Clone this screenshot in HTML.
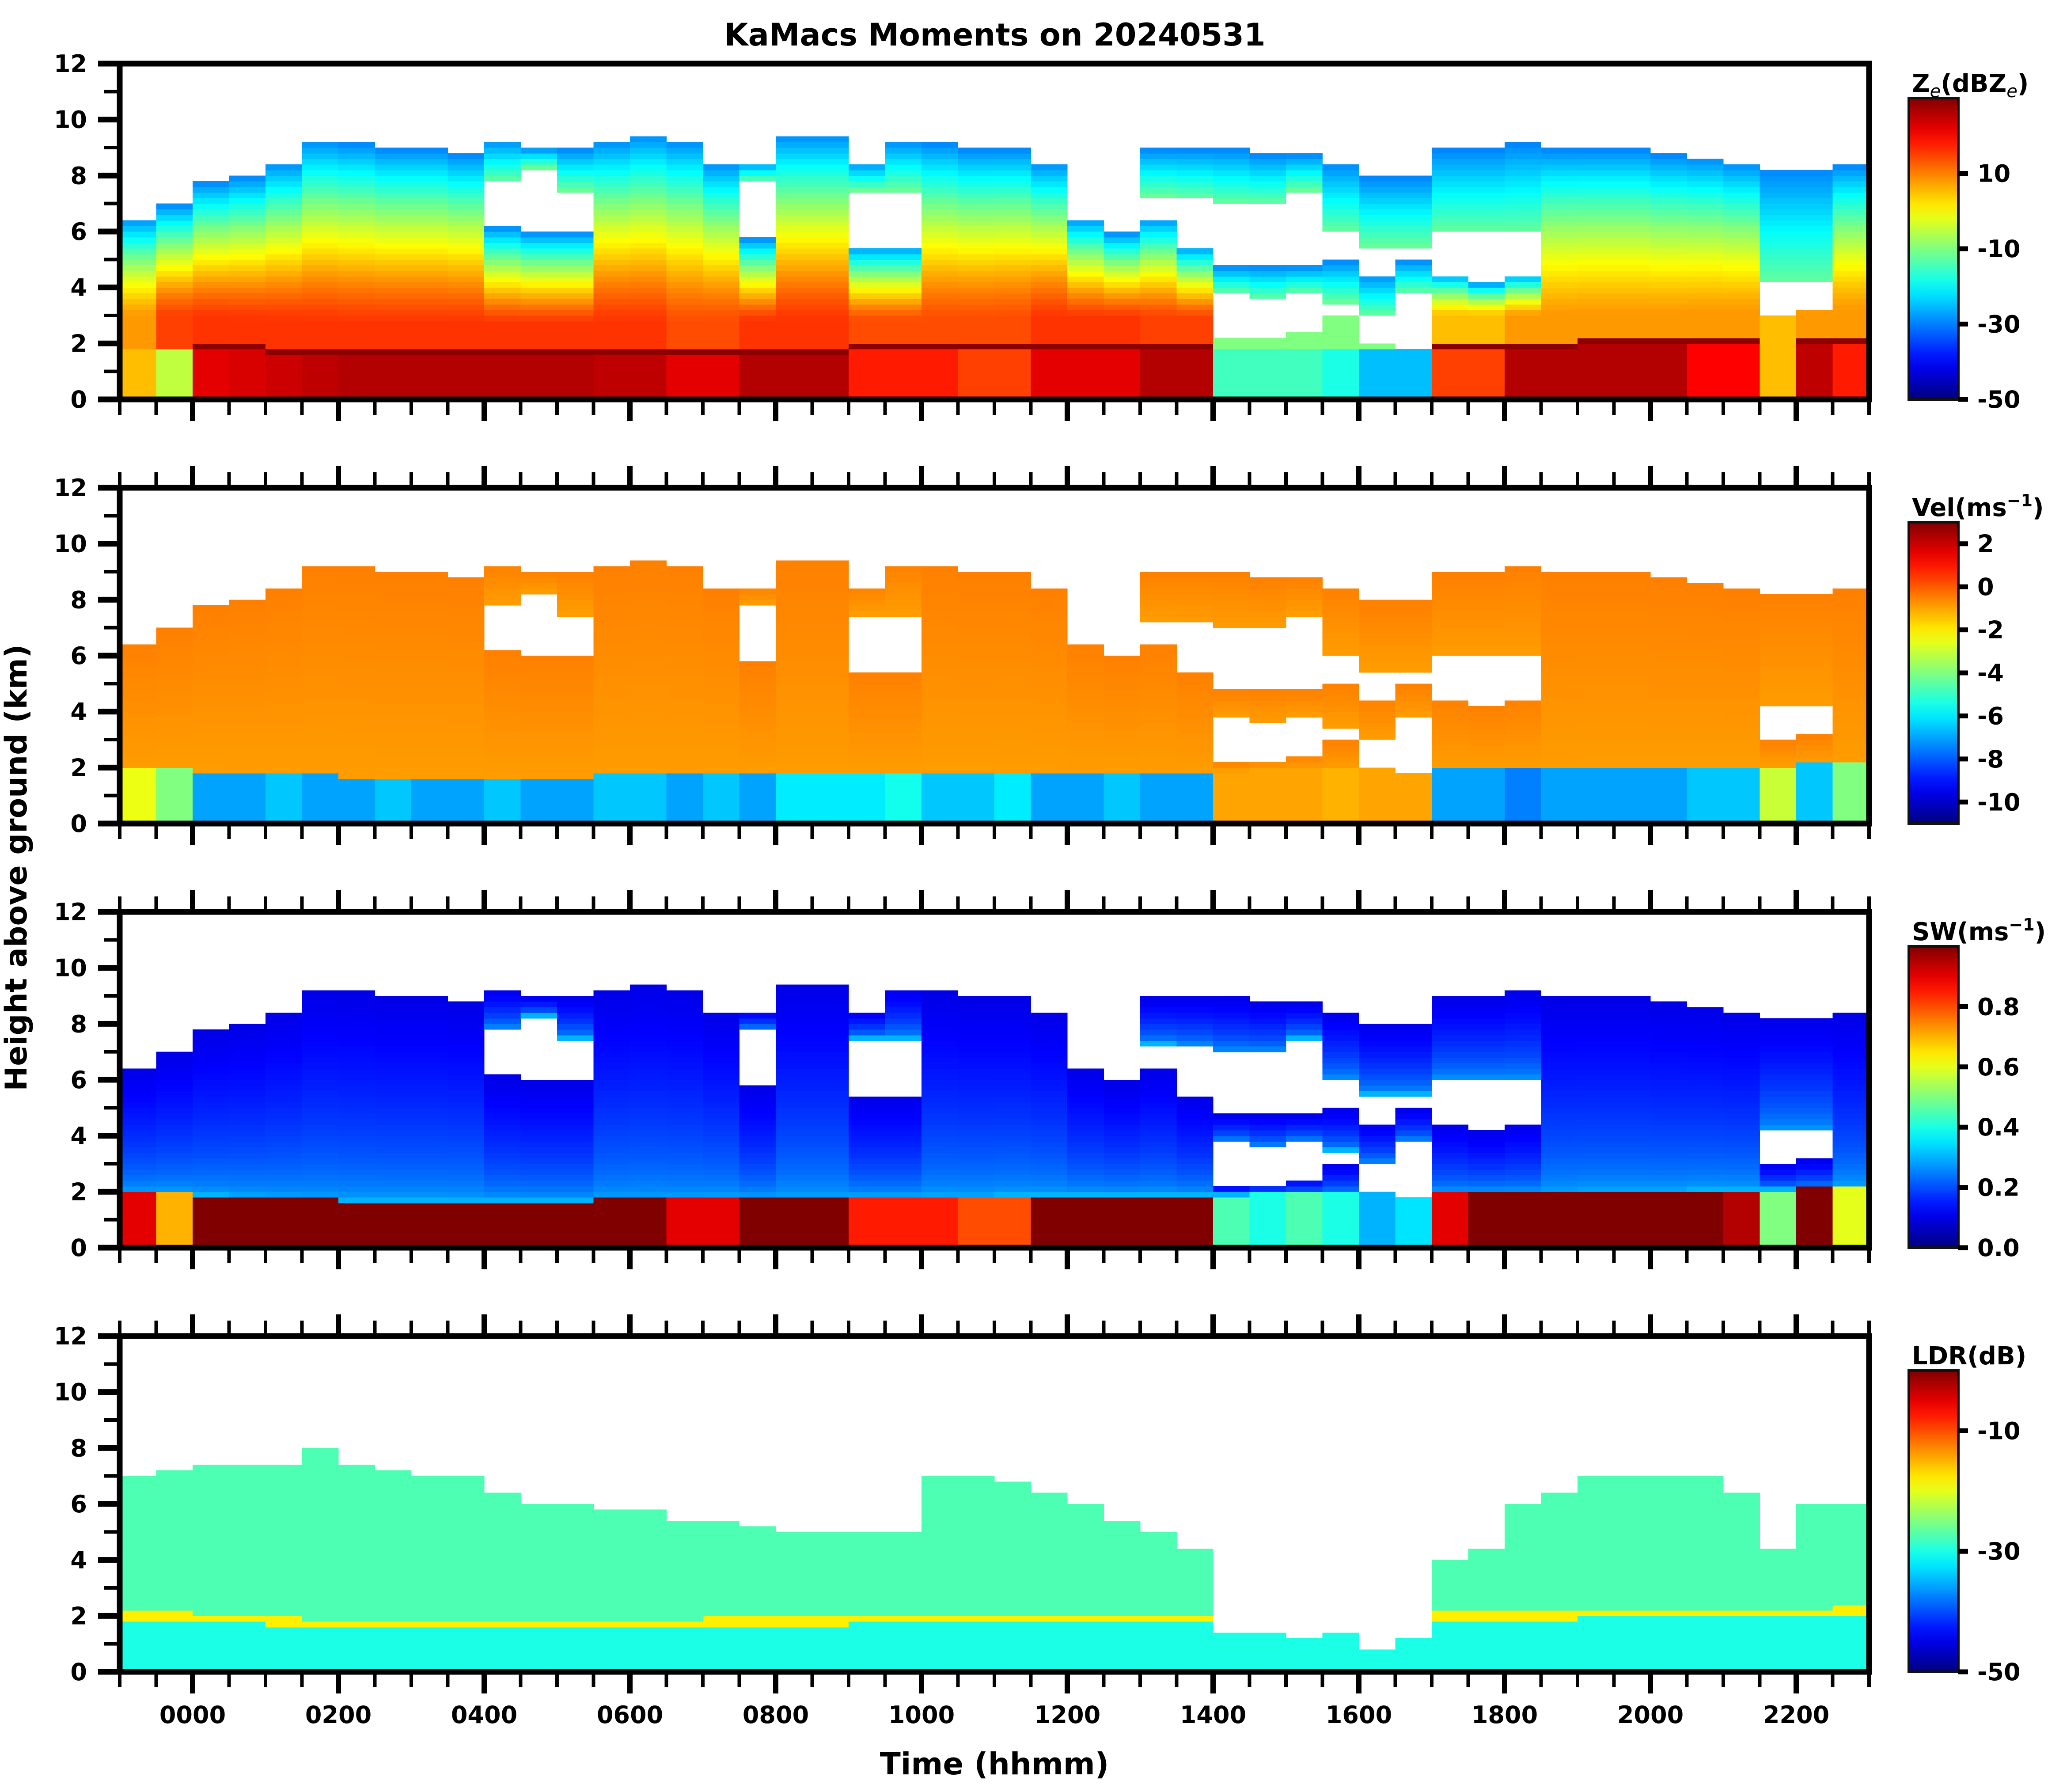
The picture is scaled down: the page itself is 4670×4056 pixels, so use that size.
<!DOCTYPE html>
<html><head><meta charset="utf-8"><title>KaMacs Moments on 20240531</title>
<style>html,body{margin:0;padding:0;background:#fff}svg{display:block}text{font-family:"DejaVu Sans","Liberation Sans",sans-serif;font-weight:bold;fill:#000}</style>
</head><body>
<svg id="fig" xmlns="http://www.w3.org/2000/svg" width="4670" height="4056" viewBox="0 0 4670 4056">
<rect x="0" y="0" width="4670" height="4056" fill="#fff"/>
<text x="2252" y="103" font-size="70" text-anchor="middle">KaMacs Moments on 20240531</text>
<text x="0" y="0" font-size="68" text-anchor="middle" transform="translate(60,1964) rotate(-90)">Height above ground (km)</text>
<text x="2251" y="4016" font-size="69" text-anchor="middle">Time (hhmm)</text>
<g id="panels"></g>
</svg>
<script>
// ---- data (half-hour columns starting at -1 h) ----
const colTimes = [-1,-0.5,0,0.5,1,1.5,2,2.5,3,3.5,4,4.5,5,5.5,6,6.5,7,7.5,8,8.5,9,9.5,10,10.5,11,11.5,12,12.5,13,13.5,14,14.5,15,15.5,16,16.5,17,17.5,18,18.5,19,19.5,20,20.5,21,21.5,22,22.5];
const lowTop = [6.5,7,7.8,8,8.5,9.3,9.2,9,9,8.8,6.2,6,6,9.3,9.5,9.3,8.5,5.8,9.5,9.5,5.5,5.5,9.2,9,9,8.5,6.5,6,6.5,5.5,2.2,2.3,2.5,3,2,1.8,4.5,4.2,4.5,9,9,9,8.8,8.7,8.5,3,3.2,8.4];
const midLo  = [0,0,0,0,0,0,0,0,0,0,7.8,8.3,7.5,0,0,0,0,7.8,0,0,7.5,7.5,0,0,0,0,0,0,7.3,7.2,3.8,3.6,3.8,3.5,3,3.8,0,0,0,0,0,0,0,0,0,4.2,4.2,0];
const midHi  = [0,0,0,0,0,0,0,0,0,0,9.3,9,9,0,0,0,0,8.5,0,0,8.5,9.3,0,0,0,0,0,0,9,9,4.8,4.8,4.8,5,4.5,5,0,0,0,0,0,0,0,0,0,8.3,8.3,0];
const upLo   = [0,0,0,0,0,0,0,0,0,0,0,0,0,0,0,0,0,0,0,0,0,0,0,0,0,0,0,0,0,0,7,7,7.5,6,5.5,5.5,6,6,6,0,0,0,0,0,0,0,0,0];
const upHi   = [0,0,0,0,0,0,0,0,0,0,0,0,0,0,0,0,0,0,0,0,0,0,0,0,0,0,0,0,0,0,9,8.8,8.8,8.5,8,8,9,9,9.2,0,0,0,0,0,0,0,0,0];
const meltH  = [2,2,1.9,1.85,1.8,1.75,1.7,1.7,1.7,1.7,1.7,1.7,1.7,1.75,1.75,1.75,1.8,1.8,1.8,1.8,1.85,1.85,1.85,1.85,1.9,1.9,1.9,1.9,1.9,1.9,1.9,1.95,1.95,1.95,2,2,2,2,2,2,2.05,2.05,2.05,2.1,2.1,2.1,2.15,2.2];
const zeRain  = [5,-5,22,23,24,25,26,26,26,26,26,26,26,25,25,22,22,26,26,26,18,18,18,15,15,22,22,22,26,26,-15,-15,-15,-18,-25,-25,15,15,26,26,26,26,26,20,20,5,25,18];
const zeAloft = [8,15,16,16,16,16,16,16,16,16,16,16,16,16,16,14,14,16,16,16,14,14,14,14,14,16,16,16,15,15,-10,-10,-10,-10,-10,-10,5,5,8,8,8,8,8,8,8,5,8,8];
const velRain = [-2.5,-4,-7,-7,-6.5,-7,-7,-6.5,-7,-7,-6.5,-7,-7,-6.5,-6.5,-7,-6.5,-7,-6,-6,-6,-5.5,-6.5,-6.5,-6,-7,-7,-6.5,-7,-7,-1,-1,-1,-1.2,-1,-1,-7,-7,-7.5,-7,-7,-7,-7,-6.5,-6.5,-3,-6.5,-4];
const swRain  = [0.9,0.7,1,1,1,1,1,1,1,1,1,1,1,1,1,0.9,0.9,1,1,1,0.85,0.85,0.85,0.8,0.8,1,1,1,1,1,0.45,0.4,0.45,0.4,0.3,0.35,0.9,1,1,1,1,1,1,1,0.95,0.5,1,0.6];
const ldrTop  = [7,7.2,7.5,7.5,7.5,8,7.5,7.2,7,7,6.5,6,6,5.8,5.8,5.5,5.5,5.3,5,5,5,5,7,7,6.8,6.5,6,5.5,5,4.5,1.5,1.5,1.2,1.5,0.8,1.2,4,4.5,6,6.5,7,7,7,7,6.5,4.5,6,6];
// colorbar ranges & ticks
const cbNames  = ['Ze','Vel','SW','LDR'];
const cbMin    = [-50,-11,0,-50];
const cbMax    = [30,3,1,0];
const zeTicks  = [10,-10,-30,-50];
const velTicks = [2,0,-2,-4,-6,-8,-10];
const swTicks  = [0.8,0.6,0.4,0.2,0.0];
const ldrTicks = [-10,-30,-50];
const yTicks   = [0,2,4,6,8,10,12];
const xTickLabels = ['0000','0200','0400','0600','0800','1000','1200','1400','1600','1800','2000','2200'];

// ---- layout helpers ----
const NS='http://www.w3.org/2000/svg';
const L=271, R=4231, PX_PER_H=165;
const panelTop=[144,1104,2064,3024], PH=760;
function xAt(t){return L+(t+1)*PX_PER_H;}
function yAt(k,h){return panelTop[k]+PH-h*PH/12;}
function mk(tag,attrs,parent){const e=document.createElementNS(NS,tag);for(const a in attrs)e.setAttribute(a,attrs[a]);parent.appendChild(e);return e;}
function cl(v){return Math.max(0,Math.min(1,v));}
function jet(x){x=cl(x);const r=cl(1.5-Math.abs(4*x-3)),g=cl(1.5-Math.abs(4*x-2)),b=cl(1.5-Math.abs(4*x-1));return 'rgb('+Math.round(r*255)+','+Math.round(g*255)+','+Math.round(b*255)+')';}

function segOf(i,h){
  if(h<lowTop[i]) return [0,lowTop[i],0];
  if(midHi[i]>0 && h>=midLo[i] && h<midHi[i]) return [midLo[i],midHi[i],1];
  if(upHi[i]>0 && h>=upLo[i] && h<upHi[i]) return [upLo[i],upHi[i],2];
  return null;
}
function value(k,i,h){
  const ml=meltH[i];
  if(k===3){
    if(h>=ldrTop[i]) return null;
    if(ldrTop[i]<2.2) return -30;
    if(Math.abs(h-ml)<0.12) return -18;
    if(h<ml) return -30;
    return -27.5;
  }
  const s=segOf(i,h); if(!s) return null;
  const base=s[2]===0, lo=base?ml:s[0], top=s[1];
  if(k===0){
    if(base && h<ml-0.1) return zeRain[i];
    if(base && h<ml+0.1 && zeRain[i]>10) return 29;
    if(base){const f=cl((h-ml-1)/Math.max(0.5,top-ml-1));return zeAloft[i]+(-30-zeAloft[i])*Math.pow(f,1.3);}
    const f=cl((h-lo)/(top-lo));return -12-18*f;
  }
  if(k===1){
    if(base && h<ml) return velRain[i];
    return -0.9+0.4*cl((h-lo)/(top-lo+0.01));
  }
  if(k===2){
    if(base && h<ml) return swRain[i];
    const f=cl((h-lo)/(top-lo+0.01));return 0.3-0.2*Math.sqrt(f);
  }
}

const panels=document.getElementById('panels');
const DH=0.2;
for(let k=0;k<4;k++){
  const g=mk('g',{},panels);
  
  
  const cells=mk('g',{'shape-rendering':'crispEdges'},g);
  
  
  for(let i=0;i<colTimes.length;i++){
    const x0=xAt(colTimes[i]), x1=xAt(colTimes[i]+0.5);
    for(let j=0;j<60;j++){
      const h=(j+0.5)*DH;
      const v=value(k,i,h); if(v===null||v===undefined) continue;
      const y1=yAt(k,j*DH), y0=yAt(k,(j+1)*DH);
      const r=mk('rect',{x:x0.toFixed(1),y:y0.toFixed(1),width:(x1-x0+0.6).toFixed(1),height:(y1-y0+0.6).toFixed(1),fill:jet((v-cbMin[k])/(cbMax[k]-cbMin[k]))},cells);
      
      
    }
  }
  const T=panelTop[k], B=T+PH;
  const fr=mk('rect',{x:L,y:T,width:R-L,height:PH,fill:'none',stroke:'#000','stroke-width':13},g);
  
  
  for(let h=0;h<=12;h++){
    const y=yAt(k,h), major=h%2===0;
    mk('line',{x1:L,x2:L-(major?49:35),y1:y,y2:y,stroke:'#000','stroke-width':major?13:8},g);
  }
  for(const h of yTicks){
    const t=mk('text',{x:197,y:yAt(k,h)+19,'font-size':54,'text-anchor':'end'},g);
    t.textContent=String(h);
    
    
  }
  for(let t=-1;t<=23.001;t+=0.5){
    const x=xAt(t), major=Math.abs(t/2-Math.round(t/2))<1e-6;
    mk('line',{x1:x,x2:x,y1:B,y2:B+(major?49:35),stroke:'#000','stroke-width':major?12:8},g);
    if(k>0) mk('line',{x1:x,x2:x,y1:T,y2:T-(major?49:35),stroke:'#000','stroke-width':major?12:8},g);
  }
  if(k===3){
    xTickLabels.forEach((lab,n)=>{
      const t=mk('text',{x:xAt(n*2),y:3900,'font-size':54,'text-anchor':'middle'},g);
      t.textContent=lab;
      
      
    });
  }
  const cbT=T+78, cbB=B, cx0=4321, cx1=4433;
  const gid='grad'+k;
  const defs=mk('defs',{},g);
  const lg=mk('linearGradient',{id:gid,x1:0,y1:1,x2:0,y2:0},defs);
  for(let s=0;s<=20;s++){mk('stop',{offset:s/20,'stop-color':jet(s/20)},lg);}
  const cb=mk('rect',{x:cx0,y:cbT,width:cx1-cx0,height:cbB-cbT,fill:'url(#'+gid+')',stroke:'#111','stroke-width':6},g);
  
  
  const ticks=[zeTicks,velTicks,swTicks,ldrTicks][k];
  for(const v of ticks){
    const y=cbB-(v-cbMin[k])/(cbMax[k]-cbMin[k])*(cbB-cbT);
    mk('line',{x1:cx1,x2:cx1+22,y1:y,y2:y,stroke:'#000','stroke-width':11},g);
    const t=mk('text',{x:4476,y:y+19,'font-size':54},g);
    t.textContent=(k===2?v.toFixed(1):String(v));
    
    
  }
  const ct=mk('text',{x:4328,y:T+64,'font-size':56},g);
  
  
  if(k===0){
    ct.innerHTML='Z<tspan font-size="40" font-style="italic" font-weight="normal" dy="12">e</tspan><tspan dy="-12">(dBZ</tspan><tspan font-size="40" font-style="italic" font-weight="normal" dy="12">e</tspan><tspan dy="-12">)</tspan>';
  } else if(k===1){
    ct.innerHTML='Vel(ms<tspan font-size="38" dy="-22">−1</tspan><tspan dy="22">)</tspan>';
  } else if(k===2){
    ct.innerHTML='SW(ms<tspan font-size="38" dy="-22">−1</tspan><tspan dy="22">)</tspan>';
  } else {
    ct.textContent='LDR(dB)';
  }
}
</script>
</body></html>
